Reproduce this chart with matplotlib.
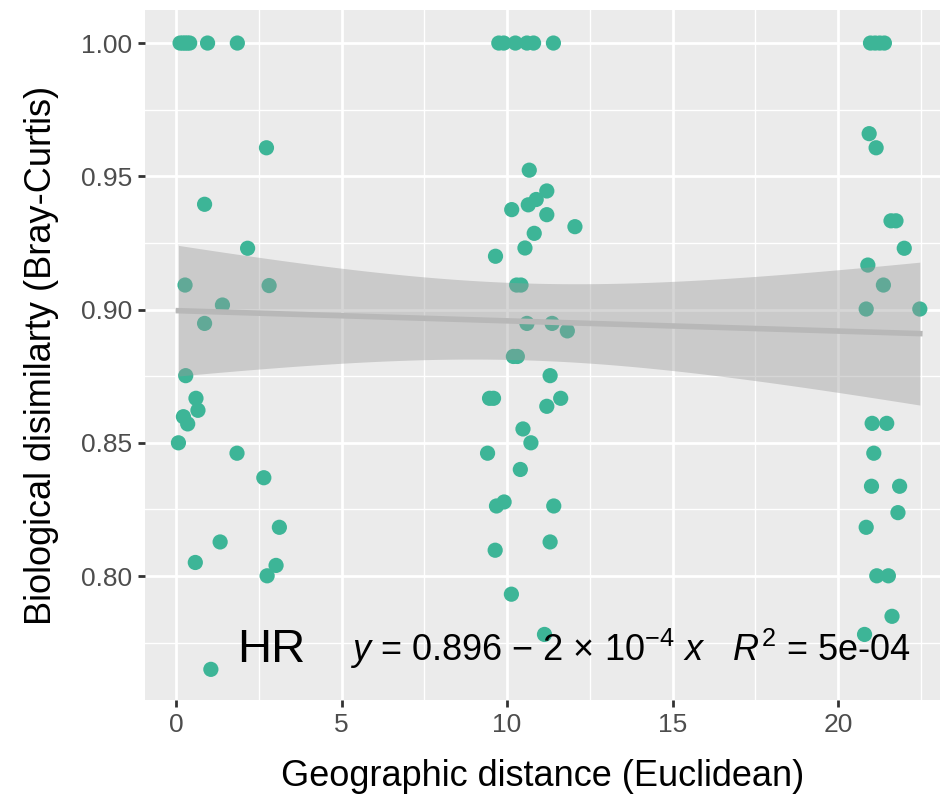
import numpy as np
import matplotlib
matplotlib.use('Agg')
import matplotlib.pyplot as plt

plt.rcParams['font.family'] = ['Liberation Sans', 'DejaVu Sans']
plt.rcParams['mathtext.fontset'] = 'custom'
plt.rcParams['mathtext.rm'] = 'Liberation Sans'
plt.rcParams['mathtext.it'] = 'Liberation Sans:italic'

# geographic distance (x) and Bray-Curtis dissimilarity (y)
dist_a = [0.12, 0.20, 0.27, 0.34, 0.41, 0.95, 1.85, 2.73, 0.86, 2.16, 0.27, 2.81, 1.40, 0.86,
          0.29, 0.60, 0.66, 0.22, 0.35, 0.07, 1.84, 2.65, 3.12, 1.33, 0.58, 3.02,
          2.75, 1.05]
diss_a = [1.00, 1.00, 1.00, 1.00, 1.00, 1.00, 1.00, 0.9607, 0.9395, 0.923, 0.9092, 0.909, 0.9017, 0.8948,
          0.8752, 0.8667, 0.8622, 0.8598, 0.8571, 0.850, 0.8461, 0.8369, 0.8183, 0.8128, 0.8051, 0.804,
          0.8001, 0.765]

dist_b = [9.75, 9.90, 10.25, 10.60, 10.80, 11.40, 10.67, 11.20, 10.88, 10.64, 10.14, 11.20,
          12.05, 10.82, 10.54, 9.65, 10.29, 10.42, 10.60, 11.36, 11.82, 10.19, 10.31, 11.30,
          9.47, 9.59, 11.62, 11.20, 10.48, 10.72, 9.41, 10.40, 9.68, 9.91, 11.41, 11.30,
          9.64, 10.13, 11.13]
diss_b = [1.00, 1.00, 1.00, 1.00, 1.00, 1.00, 0.9523, 0.9445, 0.9413, 0.9393, 0.9375, 0.9356,
          0.9311, 0.9286, 0.9231, 0.920, 0.9092, 0.9092, 0.8948, 0.8948, 0.892, 0.8824, 0.8824, 0.8752,
          0.8667, 0.8667, 0.8667, 0.8637, 0.8552, 0.850, 0.8461, 0.840, 0.8263, 0.8278, 0.8263, 0.8128,
          0.8097, 0.7932, 0.7781]

dist_c = [20.98, 21.12, 21.26, 21.40, 20.94, 21.15, 21.60, 21.75, 22.00, 20.90, 21.37,
          20.85, 22.47, 21.03, 21.47, 21.08, 21.01, 21.86, 21.81, 20.85, 21.17, 21.52, 21.63,
          20.80]
diss_c = [1.00, 1.00, 1.00, 1.00, 0.966, 0.9607, 0.9333, 0.9333, 0.923, 0.9167, 0.9092,
          0.9002, 0.9002, 0.8573, 0.8573, 0.8461, 0.8337, 0.8337, 0.8238, 0.8183, 0.8001, 0.8001, 0.7849,
          0.7781]

x = np.array(dist_a + dist_b + dist_c)
y = np.array(diss_a + diss_b + diss_c)

# linear fit with 95% confidence band
n = len(x)
slope, icpt = np.polyfit(x, y, 1)
resid = y - (icpt + slope * x)
s = np.sqrt(np.sum(resid ** 2) / (n - 2))
xs = np.linspace(x.min(), x.max(), 200)
yfit = icpt + slope * xs
se = s * np.sqrt(1 / n + (xs - x.mean()) ** 2 / np.sum((x - x.mean()) ** 2))
tval = 1.99
lo = yfit - tval * se
hi = yfit + tval * se

fig = plt.figure(figsize=(9.47, 7.96), dpi=100)
ax = fig.add_axes([145 / 947, 1 - 700 / 796, 795 / 947, 690 / 796])
ax.set_facecolor('#EBEBEB')
for sp in ax.spines.values():
    sp.set_visible(False)

ax.set_xlim(-0.94, 23.08)
ax.set_ylim(0.7535, 1.0124)
ax.set_xticks([0, 5, 10, 15, 20])
ax.set_xticks([2.5, 7.5, 12.5, 17.5, 22.5], minor=True)
ax.set_yticks([0.80, 0.85, 0.90, 0.95, 1.00])
ax.set_yticks([0.775, 0.825, 0.875, 0.925, 0.975], minor=True)
ax.set_yticklabels(['0.80', '0.85', '0.90', '0.95', '1.00'])
ax.grid(which='major', color='white', linewidth=2.0)
ax.grid(which='minor', color='white', linewidth=1.0)
ax.set_axisbelow(True)
ax.tick_params(which='major', length=5, width=2, color='#333333',
               labelsize=19, labelcolor='#4D4D4D', pad=4)
ax.tick_params(which='minor', length=0)

ax.scatter(x, y, s=120, color='#3DB597', edgecolors='none', zorder=3)
ax.fill_between(xs, lo, hi, color='#999999', alpha=0.4, linewidth=0, zorder=4)
ax.plot(xs, yfit, color='#B8B8B8', linewidth=4, zorder=5)

ax.text(2.87, 0.7722, 'HR', fontsize=34, ha='center', va='center', zorder=6)
ax.text(13.72, 0.7726,
        r'$\it{y}$ = 0.896 $-$ 2 $\times$ 10$^{-4}$ $\it{x}$   $\it{R}^{2}$ = 5e-04',
        fontsize=26, ha='center', va='center', zorder=6)

ax.set_xlabel('Geographic distance (Euclidean)', fontsize=26, labelpad=16)
ax.set_ylabel('Biological disimilarty (Bray-Curtis)', fontsize=26, labelpad=16)

fig.savefig('out.png', dpi=100)
